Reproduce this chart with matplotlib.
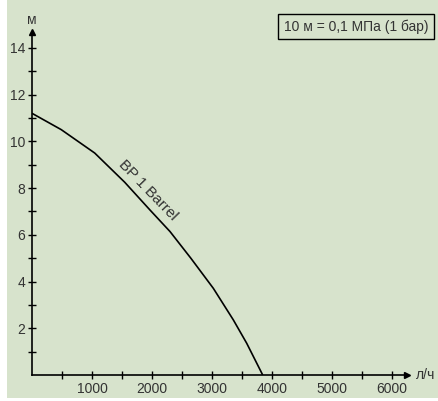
import matplotlib
matplotlib.use("Agg")
import matplotlib.pyplot as plt
from matplotlib.patches import Rectangle

plt.rcParams['font.family'] = ['Liberation Sans', 'DejaVu Sans']

# curve
flow = [0, 488, 1045, 1545, 1967, 2300, 2647, 3022, 3355, 3578, 3845]
head = [11.2, 10.5, 9.5, 8.25, 7.06, 6.14, 5.0, 3.71, 2.36, 1.36, 0.0]
curve_name = "BP 1 Barrel"
x_major = [1000, 2000, 3000, 4000, 5000, 6000]
x_minor = [500, 1500, 2500, 3500, 4500, 5500]
y_major = [2, 4, 6, 8, 10, 12, 14]
y_minor = [1, 3, 5, 7, 9, 11, 13]

bg = '#d7e3cc'
txt = '#333333'

fig = plt.figure(figsize=(4.39, 4.01), dpi=100)
fig.patches.append(Rectangle((7/439, 3/401), 1 - 7/439, 1 - 3/401,
                             transform=fig.transFigure, facecolor=bg,
                             edgecolor='none', zorder=-10))

ax = fig.add_axes([32/439, 26/401, 375/439, 343/401])
ax.patch.set_visible(False)
ax.set_xlim(0, 6250)
ax.set_ylim(0, 14.68)

ax.plot(flow, head, color='black', lw=1.2, solid_capstyle='butt',
        solid_joinstyle='round')

for s in ['top', 'right']:
    ax.spines[s].set_visible(False)
for s in ['left', 'bottom']:
    ax.spines[s].set_linewidth(1.2)

# arrow heads at the axis ends
ax.plot(1, 0, marker='>', color='black', ms=5, transform=ax.transAxes, clip_on=False)
ax.plot(0, 1, marker='^', color='black', ms=5, transform=ax.transAxes, clip_on=False)

ax.set_xticks(x_major)
ax.set_xticks(x_minor, minor=True)
ax.set_yticks(y_major)
ax.set_yticks(y_minor, minor=True)
ax.tick_params(which='both', direction='inout', length=6, width=1, color='black')
ax.tick_params(axis='both', which='major', labelsize=10, labelcolor=txt, pad=2)

ax.text(0, 1.015, 'м', transform=ax.transAxes, ha='center', va='bottom',
        fontsize=10, color=txt)
ax.text(1.025, 0, 'л/ч', transform=ax.transAxes, ha='left', va='center',
        fontsize=10, color=txt)

ax.text(1933, 7.93, curve_name, rotation=-46, rotation_mode='anchor',
        ha='center', va='center', fontsize=11, color=txt)

fig.text(0.975, 0.934, '10 м = 0,1 МПа (1 бар)', ha='right', va='center',
         fontsize=10, color=txt,
         bbox=dict(boxstyle='square,pad=0.4', facecolor='none',
                   edgecolor='black', lw=1))

fig.savefig('out.png', dpi=100)
